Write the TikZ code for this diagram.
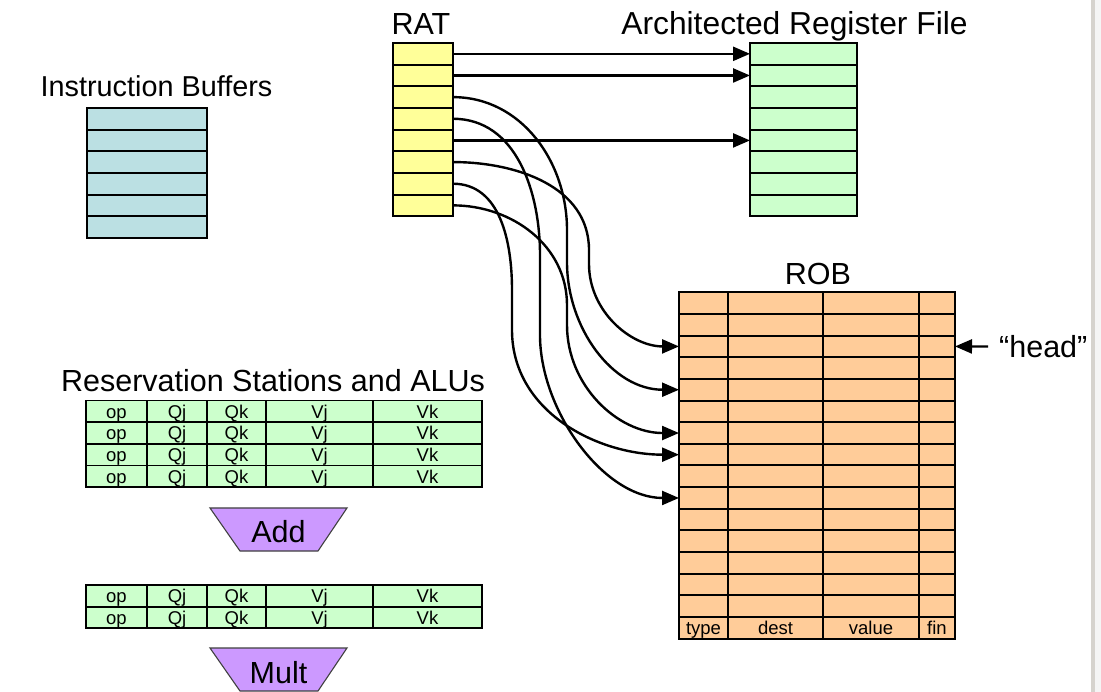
\documentclass[tikz,border=0pt]{standalone}
\usepackage{fontspec}
\setmainfont{Liberation Sans}
\usetikzlibrary{arrows.meta}

\definecolor{ratyellow}{HTML}{FFFF99}
\definecolor{arfgreen}{HTML}{CCFFCC}
\definecolor{ibblue}{HTML}{BBE0E3}
\definecolor{robpeach}{HTML}{FFCC99}
\definecolor{alupurple}{HTML}{CC99FF}
\definecolor{barcolor}{HTML}{D6D3CE}

\def\rh{21.65}

\begin{document}
\begin{tikzpicture}[x=1pt,y=-1pt,
  tbl/.style={draw=black, line width=2pt, inner sep=0pt, outer sep=0pt,
              minimum height=21.65pt, anchor=north west},
  ratrow/.style={tbl, fill=ratyellow, minimum width=60pt},
  arfrow/.style={tbl, fill=arfgreen, minimum width=107pt},
  ibrow/.style={tbl, fill=ibblue, minimum width=120pt},
  robrow/.style={tbl, fill=robpeach, minimum width=276pt},
  rscell/.style={tbl, line width=1.7pt, fill=arfgreen, font=\fontsize{18.5}{19}\selectfont,
                 text height=17.8pt, text depth=3.85pt},
  title/.style={font=\fontsize{30.5}{34}\selectfont, inner sep=0pt, anchor=base},
  smalllabel/.style={font=\fontsize{18.5}{19}\selectfont, inner sep=0pt, anchor=base},
  gridline/.style={line width=2pt, draw=black},
  alu/.style={fill=alupurple, draw=black!75, line width=1.1pt, line join=miter},
  arr/.style={line width=2.4pt, -{Triangle[length=17pt,width=14pt]}},
]
\useasboundingbox (0,0) rectangle (1101,692);
\fill[white] (0,0) rectangle (1101,692);

% window edge on the right
\fill[barcolor] (1090.5,0) rectangle (1094.5,692);
\fill[black!4] (1094.5,0) rectangle (1101,692);

% ---- titles
\node[title] (tRAT) at (421,35) {RAT};
\node[title, font=\fontsize{31.8}{34}\selectfont] (tARF) at (794.5,35) {Architected Register File};
\node[title, font=\fontsize{28.8}{34}\selectfont] (tIB) at (156.5,97) {Instruction Buffers};
\node[title] (tROB) at (818,285) {ROB};
\node[title] (tRS)  at (273,392) {Reservation Stations and ALUs};

% ---- register alias table
\foreach \i in {1,...,8}
  \node[ratrow] (rat\i) at (393,{43+(\i-1)*\rh}) {};

% ---- architected register file
\foreach \i in {1,...,8}
  \node[arfrow] (arf\i) at (750,{43+(\i-1)*\rh}) {};

% ---- instruction buffers
\foreach \i in {1,...,6}
  \node[ibrow] (ib\i) at (87,{108+(\i-1)*\rh}) {};

% ---- reorder buffer
\foreach \i in {1,...,16}
  \node[robrow] (rob\i) at (679,{292.3+(\i-1)*\rh}) {};
\foreach \cx in {728,823,919}
  \draw[gridline] (\cx,292.3) -- (\cx,{292.3+16*\rh});
\node[smalllabel] (lType)  at (703.5,634) {type};
\node[smalllabel] (lDest)  at (775.5,634) {dest};
\node[smalllabel] (lValue) at (871,634) {value};
\node[smalllabel] (lFin)   at (937,634) {fin};

% head pointer
\coordinate (headtail) at (988,346.5);
\draw[arr] (headtail) -- (rob3.east);
\node[font=\fontsize{30.5}{34}\selectfont, inner sep=0pt, anchor=base west] (tHead) at (999,358) {“head”};

% ---- reservation stations
\foreach \r in {1,...,4}
  \foreach \cl/\cx/\cw/\txt in {1/86/61/op, 2/147/60/Qj, 3/207/59/Qk, 4/266/107/Vj, 5/373/109/Vk}
    \node[rscell, minimum width=\cw*1pt] (rsa-\r-\cl) at (\cx,{400.55+(\r-1)*\rh}) {\txt};

\foreach \r in {1,2}
  \foreach \cl/\cx/\cw/\txt in {1/86/61/op, 2/147/60/Qj, 3/207/59/Qk, 4/266/107/Vj, 5/373/109/Vk}
    \node[rscell, minimum width=\cw*1pt] (rsm-\r-\cl) at (\cx,{585+(\r-1)*\rh}) {\txt};

% ---- functional units
\draw[alu] (210,508) -- (347,508) -- (318,551) -- (240,551) -- cycle;
\node[title] (tAdd) at (278.5,542) {Add};
\draw[alu] (210,648) -- (347,648) -- (318,691) -- (240,691) -- cycle;
\node[title] (tMult) at (278.5,683) {Mult};

% ---- RAT entries pointing at architected registers
\draw[arr] (rat1.east) -- (arf1.west);
\draw[arr] (rat2.east) -- (arf2.west);
\draw[arr] (rat5.east) -- (arf5.west);

% ---- RAT entries pointing at ROB entries
\coordinate (v3a) at (567,230);  \coordinate (v3b) at (567,262);
\coordinate (v4a) at (540,255);  \coordinate (v4b) at (540,335);
\coordinate (v6a) at (589,250);  \coordinate (v6b) at (589,264);
\coordinate (v7a) at (512,290);  \coordinate (v7b) at (512,330);
\coordinate (v8a) at (567,305);  \coordinate (v8b) at (567,325);

\draw[arr] (rat3.east) to[out=0,in=90] (v3a) -- (v3b) to[out=-90,in=180] (rob5.west);
\draw[arr] (rat4.east) to[out=0,in=90] (v4a) -- (v4b) to[out=-90,in=180,looseness=0.9] (rob10.west);
\draw[arr] (rat6.east) to[out=0,in=90] (v6a) -- (v6b) to[out=-90,in=180] (rob3.west);
\draw[arr] (rat7.east) to[out=0,in=90] (v7a) -- (v7b) to[out=-90,in=180] (rob8.west);
\draw[arr] (rat8.east) to[out=0,in=90] (v8a) -- (v8b) to[out=-90,in=180] (rob7.west);
\end{tikzpicture}
\end{document}
